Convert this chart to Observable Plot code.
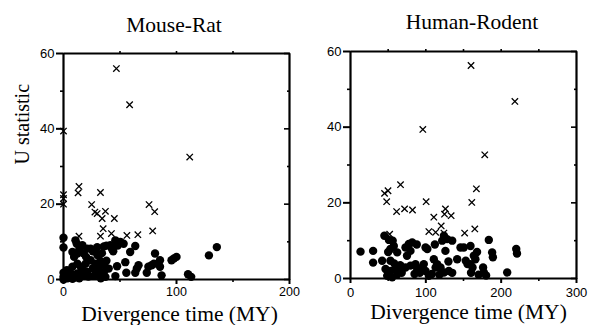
<!DOCTYPE html>
<html><head><meta charset="utf-8">
<script src="https://cdn.jsdelivr.net/npm/d3@7"></script>
<script src="https://cdn.jsdelivr.net/npm/@observablehq/plot@0.6"></script>
<style>
html,body{margin:0;padding:0;background:#fff;}
#wrap{position:relative;width:589px;height:325px;overflow:hidden;}
#wrap > svg{position:absolute;top:0;}
</style></head>
<body><div id="wrap"></div>
<script>
const panelTitles = ["Mouse-Rat", "Human-Rodent"];
const xLabel = "Divergence time (MY)";
const yLabel = "U statistic";
const yTicks = [0, 20, 40, 60];
const yMinor = [10, 30, 50];
const yDomain = [0, 60];
const xDomainMR = [0, 200];
const xDomainHR = [0, 300];
const xTicksMR = [0, 100, 200];
const xMinorMR = [50, 150];
const xTicksHR = [0, 100, 200, 300];
const xMinorHR = [50, 150, 250];

// Mouse-Rat: filled circles [time, U]
const mrDots = [[0,11.1],[0,8.5],[0,1.8],[0,0.7],[0,0],[3.5,0.3],[6.4,1.6],[7.9,3.4],[7.9,7.3],[9.4,6],[10.6,10.4],[11.7,9.5],[12.3,6.9],[12.3,4.2],[12.3,1.6],[14,8],[15.2,3.4],[16.7,9.1],[18,6.9],[18.1,1.1],[19.6,4.2],[21,8.2],[21,2],[24,8.2],[24,5.1],[26,3],[28.4,4.2],[29.8,8.6],[29.8,2],[31.3,3.4],[32.7,4.9],[32.7,1.1],[34,7],[35.7,8.8],[35.7,2],[37.1,0.7],[38,5],[40,2.9],[41.5,9.1],[43,8],[45.9,10.4],[45.9,0.9],[47.4,3.5],[50.3,10],[53.2,9.5],[54.7,4.6],[55.6,1.8],[59,7.3],[63.5,8.9],[63.5,1.8],[64.9,2.9],[66.4,3.8],[73.7,1.8],[75.1,3.4],[78,3.8],[80,4.2],[81,6.9],[85.4,5.1],[85.4,3.4],[86.8,1.1],[95.6,5.1],[97.7,5.6],[100,6],[110.2,1.4],[113,0.7],[128.7,6.4],[135.7,8.6],[5,2],[10,0.5],[14,0.3],[20,6],[22,0.8],[26,7.5],[27,1],[30,6.5],[33,0.3],[36,4],[38,9],[44,7.5],[48,9],[3,2.5],[8,0.2],[17,2.5]];
// Mouse-Rat: crosses
const mrCrosses = [[46.8,56],[58.5,46.4],[111.7,32.5],[0,39.4],[0,22.5],[0,21.5],[0,20],[13.7,24.7],[12.9,23],[32.7,23.1],[24.9,19.9],[27.8,17.9],[29.8,17.5],[37.1,18.1],[34.2,16.2],[45,16.2],[35.1,13.5],[32.7,11.5],[42.4,12.2],[56.1,11.7],[65.8,11.9],[75.7,19.9],[80.7,18],[78.9,12.9],[13.7,11.5]];
// Human-Rodent: filled circles
const hrDots = [[13.3,7.1],[30,7.3],[30,4.2],[42,4.7],[45,11.3],[51,10.2],[53,7.8],[46.5,2.5],[53,2],[60,2.5],[48.7,0.7],[55.3,0.3],[62,1.1],[64.2,2.9],[53,4.7],[57.5,8.6],[62,6.9],[73,8.2],[77.4,9.1],[81.9,9.5],[75,6],[79.6,7.3],[73,2.9],[79.6,3.4],[86.3,3.8],[88.5,2.5],[95,2.9],[99.6,2],[97.3,3.8],[104,0.7],[99.6,8.2],[102,7.8],[110.6,5.1],[115,3.8],[119.5,2.9],[113,2.9],[124,1.6],[130.5,2],[121.7,10],[128.3,10.4],[135,10],[124,11.3],[126,7.3],[141.6,5.1],[146,8.2],[150.4,8.2],[159.3,8.6],[153,4.7],[155.3,3.8],[159.3,3.8],[163.7,6],[165.8,5.1],[162,2.9],[176,2.9],[177,1.6],[183.6,10.2],[188,6.9],[189,5.6],[208,1.6],[220,7.8],[221,6.6],[50,1.5],[58,4],[68,1.5],[85,1.2],[92,1.5],[108,1.2],[118,1],[135,1.5],[160,1.5],[170,1],[66,3.5],[130,4.5],[88,9],[112,9],[168,7],[56,10],[180,0.8],[50,7]];
// Human-Rodent: crosses
const hrCrosses = [[160,56.3],[218.2,46.8],[96,39.4],[178.2,32.7],[66.4,24.8],[45.2,22.5],[49.8,23.2],[48,20.3],[61.2,17.7],[71.8,18.4],[82.3,18.1],[100.4,20.3],[167.1,23.7],[161,20.1],[110.6,16.2],[126,18.4],[124.8,17],[133.6,16.6],[120.4,13.9],[104,12.4],[113,12.2],[124,12],[151.5,12],[165,13.1],[52,11.7]];

const serif = "'Liberation Serif', 'Times New Roman', serif";
const sans = "'Liberation Sans', Arial, sans-serif";

function panel(o) {
  const blank = () => "";
  const k = {stroke: "black"};
  const [x0, x1] = o.xDomain, [y0, y1] = yDomain;
  const box = [[x0, y0], [x1, y0], [x1, y1], [x0, y1], [x0, y0]];
  return Plot.plot({
    width: o.width, height: 325,
    marginLeft: o.ml, marginRight: o.mr, marginTop: o.mt, marginBottom: o.mb,
    style: {fontFamily: sans, fontSize: "13px", color: "black", background: "white", overflow: "visible"},
    x: {domain: o.xDomain},
    y: {domain: yDomain},
    marks: [
      Plot.axisY({ticks: yTicks, tickSize: 7, tickPadding: 2, ...k, strokeWidth: 2, label: null, fontSize: 13}),
      Plot.axisY({ticks: yMinor, tickSize: 3, tickFormat: blank, label: null, ...k, strokeWidth: 1.6}),
      Plot.axisY({anchor: "right", ticks: yTicks, tickSize: -6, tickFormat: blank, label: null, ...k, strokeWidth: 1.6}),
      Plot.axisY({anchor: "right", ticks: yMinor, tickSize: -3, tickFormat: blank, label: null, ...k, strokeWidth: 1.6}),
      Plot.axisX({ticks: o.xTicks, tickSize: 5, tickPadding: o.xPad, label: null, ...k, strokeWidth: 2, fontSize: o.xFont}),
      Plot.axisX({ticks: o.xMinor, tickSize: 3, tickFormat: blank, label: null, ...k, strokeWidth: 1.6}),
      Plot.axisX({anchor: "top", ticks: o.xMinor.concat(o.xTicks.slice(1, -1)), tickSize: 3, tickFormat: blank, label: null, ...k, strokeWidth: 1.6}),
      Plot.line(box, {x: d => d[0], y: d => d[1], stroke: "black", strokeWidth: 2.2, strokeLinecap: "square", strokeLinejoin: "miter"}),
      Plot.dot(o.dots, {x: d => d[0], y: d => d[1], r: 4.2, fill: "black", stroke: "none"}),
      Plot.dot(o.crosses, {x: d => d[0], y: d => d[1], symbol: "times", r: 3, stroke: "black", strokeWidth: 1.3}),
      Plot.text([o.title], {frameAnchor: "top", lineAnchor: "bottom", dy: o.titleDy, dx: o.titleDx, fontFamily: serif, fontSize: 21.5, fill: "black"}),
      Plot.text([xLabel], {frameAnchor: "bottom", lineAnchor: "bottom", dy: o.xlDy, dx: o.xlDx, fontFamily: serif, fontSize: 21.5, fill: "black"}),
      ...(o.yLabel ? [Plot.text([yLabel], {frameAnchor: "left", lineAnchor: "bottom", rotate: -90, dx: -35, dy: -2, fontFamily: serif, fontSize: 20, fill: "black"})] : [])
    ]
  });
}

const wrap = document.getElementById("wrap");
const right = panel({width: 299, ml: 60, mr: 13, mt: 51, mb: 47, xDomain: xDomainHR, xTicks: xTicksHR, xMinor: xMinorHR, xPad: 4, xFont: 13,
  dots: hrDots, crosses: hrCrosses, title: panelTitles[1], titleDy: -23, titleDx: 8.5, xlDy: 40.5, xlDx: 5, yLabel: false});
right.style.left = "290px";
const left = panel({width: 290, ml: 63, mr: 1, mt: 53, mb: 46, xDomain: xDomainMR, xTicks: xTicksMR, xMinor: xMinorMR, xPad: 2.5, xFont: 12.5,
  dots: mrDots, crosses: mrCrosses, title: panelTitles[0], titleDy: -22, titleDx: -2.5, xlDy: 41, xlDx: 3, yLabel: true});
left.style.left = "0px";
wrap.appendChild(right);
wrap.appendChild(left);
</script></body></html>
